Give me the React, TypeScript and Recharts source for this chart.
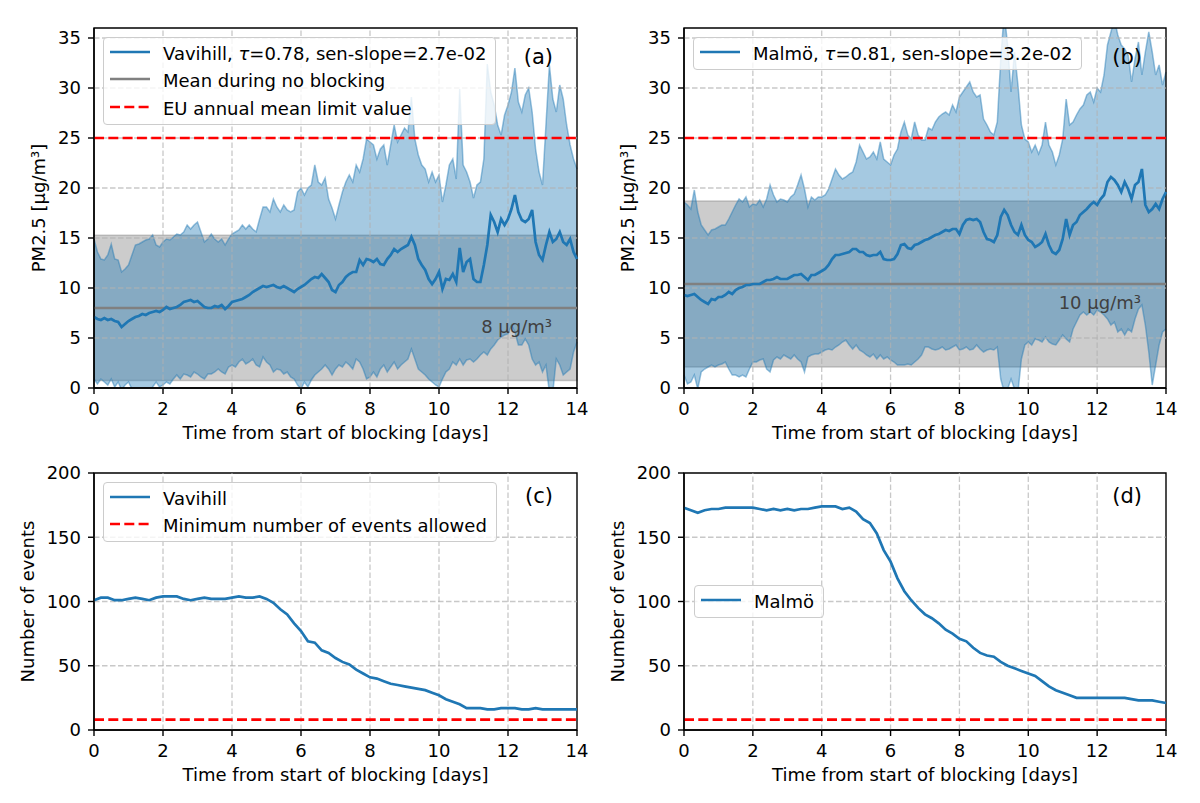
import React from 'react'
import {
  Area,
  ComposedChart,
  Legend,
  Line,
  ReferenceArea,
  ReferenceLine,
  XAxis,
  YAxis,
} from 'recharts'

const FONT = '"DejaVu Sans", sans-serif'
const FS = 18
const BLUE = '#1f77b4'
const GRAY = '#808080'
const RED = '#ff0000'
const DASH = '10 4.3'
const LW = 2.7

const DAY_TICKS = [0, 2, 4, 6, 8, 10, 12, 14]
const PM_TICKS = [0, 5, 10, 15, 20, 25, 30, 35]
const COUNT_TICKS = [0, 50, 100, 150, 200]

const PM_STEP = 0.1
const COUNT_STEP = 0.2
const EU_LIMIT = 25
const MIN_EVENTS = 8

// no-blocking reference band: [low, mean, high]
const VAV_NO_BLOCK = [0.74, 8.0, 15.27]
const MAL_NO_BLOCK = [2.1, 10.4, 18.7]

// Vavihill PM2.5 composite, every 0.1 day
const VAV_MEAN = [
  7.1, 6.9, 6.8, 7.0, 6.8, 6.9, 6.7, 6.6, 6.1, 6.4,
  6.7, 6.9, 7.1, 7.2, 7.4, 7.3, 7.5, 7.6, 7.7, 7.6,
  7.8, 8.1, 7.9, 8.0, 8.1, 8.3, 8.6, 8.7, 8.8, 8.6,
  8.7, 8.4, 8.1, 8.0, 8.0, 8.2, 8.1, 8.3, 7.9, 8.2,
  8.6, 8.7, 8.8, 8.9, 9.1, 9.3, 9.6, 9.8, 10.0, 10.2,
  10.1, 10.2, 10.3, 10.1, 10.0, 10.2, 10.0, 9.8, 9.6, 9.9,
  10.1, 10.3, 10.6, 10.9, 11.1, 11.0, 11.4, 11.0, 10.6, 9.8,
  9.6, 10.3, 10.6, 11.1, 11.4, 11.6, 11.6, 12.8, 12.3, 12.9,
  12.8, 12.6, 12.9, 12.4, 12.3, 12.9, 13.3, 13.9, 13.6, 13.9,
  14.1, 14.3, 15.1, 14.3, 12.9, 12.3, 11.8, 10.9, 10.4, 10.9,
  11.6, 9.9, 10.9, 10.8, 11.4, 10.6, 14.0, 11.6, 12.6, 12.9,
  10.9, 10.6, 10.6, 12.3, 14.3, 17.3, 16.6, 15.6, 16.9, 16.3,
  16.9, 17.9, 19.3, 17.6, 16.8, 16.6, 16.9, 17.8, 14.6, 13.3,
  12.8, 14.3, 15.6, 14.6, 14.9, 15.6, 14.6, 14.3, 14.9, 13.6,
  12.9,
]
const VAV_HIGH = [
  14.9, 13.6, 12.9, 12.8, 13.3, 14.4, 12.9, 12.8, 11.6, 11.9,
  12.3, 13.3, 14.3, 14.4, 14.6, 14.8, 14.9, 15.3, 14.3, 14.1,
  14.6, 14.9, 14.8, 15.1, 15.4, 15.3, 15.6, 16.3, 15.9, 16.3,
  16.6, 15.6, 14.6, 14.9, 15.4, 14.9, 14.6, 14.9, 14.3, 14.9,
  15.4, 15.6, 15.8, 16.3, 15.9, 16.3, 15.9, 15.6, 16.9, 18.1,
  18.1, 17.6, 18.9, 18.1, 17.6, 18.3, 17.8, 17.6, 17.8, 19.6,
  20.0, 19.3, 20.0, 20.3, 22.3, 20.6, 20.3, 21.0, 18.9, 18.0,
  16.9, 18.3, 19.6, 20.6, 21.3, 20.6, 22.3, 21.6, 22.9, 24.9,
  24.6, 24.3, 22.9, 23.9, 24.3, 22.3, 24.3, 26.3, 24.6, 25.3,
  26.0, 25.6, 29.1, 24.9, 23.3, 22.3, 21.9, 20.6, 21.6, 20.6,
  21.3, 18.6, 20.3, 22.3, 22.9, 20.9, 29.9, 22.3, 21.6, 20.6,
  19.0, 20.3, 20.6, 22.9, 32.4, 29.6, 28.3, 26.3, 25.3, 27.3,
  28.3, 29.6, 32.0, 28.6, 27.6, 29.3, 30.0, 27.6, 23.9, 21.6,
  20.3, 26.3, 32.3, 28.9, 27.6, 30.3, 28.9, 26.3, 24.3, 22.9,
  21.9,
]
const VAV_LOW = [
  0.9, 0.4, 0.9, 0.6, 0.3, 0.9, 0.1, 0.6, -0.2, 0.3,
  0.6, -0.1, -0.4, -0.8, -0.9, -0.6, -0.3, 0.1, 0.6, 0.1,
  0.3, 0.6, 0.4, 0.9, 1.3, 0.9, 1.4, 1.3, 1.1, 1.6,
  1.4, 1.1, 0.9, 1.4, 1.4, 1.6, 1.9, 1.6, 1.4, 2.1,
  2.3, 2.1, 2.6, 2.9, 2.4, 2.6, 2.9, 2.3, 2.1, 3.1,
  2.6, 2.3, 1.6, 1.9, 1.8, 1.4, 1.6, 1.1, 0.9, 0.3,
  -0.1, 0.6, 0.1, 0.8, 1.3, 1.6, 1.9, 2.3, 1.9, 1.3,
  1.9, 2.3, 2.1, 2.6, 2.3, 1.9, 2.9, 2.6, 1.9, 0.9,
  1.1, 1.6, 1.1, 1.9, 2.3, 1.6, 2.1, 2.6, 1.9, 2.3,
  2.6, 2.9, 3.9, 2.9, 1.9, 1.6, 1.3, 0.9, 0.6, 0.3,
  0.1, 0.9, 1.6, 1.9, 2.6, 2.3, 2.9, 2.3, 2.8, 2.9,
  2.6, 2.9, 3.3, 3.6, 3.3, 3.9, 4.3, 4.8, 5.1, 5.3,
  5.4, 6.3, 5.6, 4.3, 4.3, 4.9, 4.3, 2.9, 2.3, 2.6,
  1.6, 2.3, -0.4, -0.4, 2.9, 2.3, 1.3, 1.6, 1.9, 3.6,
  4.6,
]

// Malmö PM2.5 composite, every 0.1 day
const MAL_MEAN = [
  9.3, 9.2, 9.3, 9.4, 9.1, 8.8, 8.6, 8.4, 8.9, 8.8,
  9.1, 9.1, 9.3, 9.6, 9.4, 9.8, 10.0, 10.1, 10.3, 10.3,
  10.4, 10.4, 10.4, 10.6, 10.8, 10.8, 10.9, 11.1, 10.9, 10.9,
  10.9, 11.1, 11.3, 11.3, 11.4, 11.1, 10.8, 11.3, 11.3, 11.5,
  11.7, 11.9, 12.3, 12.9, 13.3, 13.3, 13.4, 13.5, 13.6, 13.9,
  13.9, 13.6, 13.6, 13.3, 13.2, 13.3, 13.3, 13.6, 12.9, 12.8,
  12.8, 12.9, 13.4, 14.3, 14.4, 14.0, 13.9, 14.3, 14.4, 14.6,
  14.8, 14.9, 15.1, 15.3, 15.4, 15.6, 15.8, 15.7, 15.9, 15.9,
  15.4, 16.3, 16.8, 16.9, 16.8, 16.9, 16.6, 15.6, 14.9, 14.8,
  14.6, 15.3, 17.1, 17.8, 17.3, 16.3, 15.6, 15.3, 16.3, 15.3,
  14.8, 14.6, 14.1, 14.3, 14.6, 15.4, 14.3, 13.6, 13.4, 13.8,
  14.9, 16.9, 15.3, 16.3, 16.6, 17.3, 17.6, 17.9, 18.3, 18.6,
  18.3, 18.9, 19.3, 20.6, 21.1, 20.8, 20.3, 19.6, 20.6, 19.9,
  18.9, 20.3, 20.6, 21.9, 18.3, 17.6, 17.9, 18.4, 17.9, 18.9,
  19.6,
]
const MAL_HIGH = [
  18.6, 18.3, 17.9, 19.8, 17.6, 16.3, 15.8, 15.3, 15.8, 15.9,
  16.1, 16.3, 16.3, 16.9, 17.6, 18.3, 18.9, 18.6, 19.1, 18.1,
  18.4, 18.3, 18.8, 18.1, 18.9, 20.3, 19.3, 18.6, 18.9, 18.8,
  18.6, 19.1, 19.4, 20.3, 21.3, 19.9, 18.1, 19.1, 18.8, 19.1,
  19.1, 19.3, 19.9, 20.9, 21.9, 21.3, 20.9, 21.1, 21.4, 21.6,
  22.6, 24.3, 23.6, 22.9, 23.1, 23.6, 22.9, 24.6, 22.9, 22.6,
  22.3, 23.3, 23.9, 25.6, 26.6, 25.3, 24.9, 26.6, 25.3, 24.8,
  24.8, 26.0, 25.8, 26.6, 27.1, 27.4, 27.6, 27.3, 28.3, 27.6,
  29.1, 29.6, 30.1, 30.6, 29.6, 29.1, 29.3, 26.9, 26.3, 25.6,
  25.3, 26.6, 32.9, 37.5, 34.3, 29.6, 33.6, 30.3, 26.3, 24.9,
  24.6, 23.6, 24.3, 23.4, 24.3, 26.6, 24.3, 23.6, 22.3, 23.3,
  24.9, 28.9, 26.3, 26.6, 27.3, 27.9, 28.3, 29.3, 29.6, 28.6,
  30.0, 29.6, 31.3, 34.3, 35.6, 36.9, 35.3, 34.3, 33.9, 33.3,
  30.6, 32.9, 34.6, 31.3, 33.6, 35.6, 33.6, 31.3, 32.3, 30.3,
  31.6,
]
const MAL_LOW = [
  1.3, 0.4, 0.6, 1.3, -0.1, 1.6, 1.9, 2.1, 2.3, 2.1,
  2.3, 2.4, 2.6, 1.9, 1.3, 1.3, 1.1, 1.3, 1.1, 1.9,
  2.6, 2.6, 2.8, 2.9, 1.9, 1.6, 2.8, 3.1, 2.9, 3.3,
  3.1, 2.9, 3.3, 2.9, 2.6, 1.6, 3.1, 3.3, 3.4, 3.4,
  3.6, 3.8, 3.9, 3.8, 4.1, 4.3, 4.6, 4.8, 4.3, 3.9,
  4.3, 3.8, 3.6, 3.3, 3.1, 3.4, 2.9, 3.3, 2.9, 3.1,
  2.8, 2.6, 2.3, 2.3, 2.3, 2.4, 2.3, 2.6, 2.9, 3.3,
  4.1, 4.1, 3.9, 3.8, 3.9, 4.1, 3.8, 3.9, 4.1, 4.3,
  3.8, 3.9, 4.1, 3.8, 3.9, 4.3, 3.9, 3.6, 3.8, 3.9,
  3.8, 4.1, 0.9, -0.4, -0.1, 0.9, -0.1, -0.4, 2.9, 4.3,
  4.6, 4.3, 4.9, 4.8, 4.6, 5.1, 4.6, 4.4, 4.3, 4.8,
  5.3, 4.9, 4.6, 5.9, 6.6, 7.3, 7.6, 7.3, 7.6, 7.3,
  7.8, 7.6, 7.3, 6.9, 6.3, 6.6, 5.6, 5.9, 5.3, 5.9,
  5.6, 6.9, 7.9, 8.3, 6.3, 3.6, 0.3, 2.3, 4.3, 5.6,
  5.9,
]

// number of events, every 0.2 day
const VAV_COUNT = [
  101, 103, 103, 101, 101, 102, 103, 102, 101, 103,
  104, 104, 104, 102, 101, 102, 103, 102, 102, 102,
  103, 104, 103, 103, 104, 102, 99, 94, 90, 83,
  77, 69, 68, 62, 60, 56, 53, 51, 47, 44,
  41, 40, 38, 36, 35, 34, 33, 32, 31, 29,
  27, 24, 22, 20, 17, 17, 17, 16, 16, 17,
  17, 17, 16, 16, 17, 16, 16, 16, 16, 16,
  16,
]
const MAL_COUNT = [
  173, 171, 169, 171, 172, 172, 173, 173, 173, 173,
  173, 172, 171, 172, 171, 172, 171, 172, 172, 173,
  174, 174, 174, 172, 173, 170, 164, 161, 153, 140,
  131, 118, 108, 101, 95, 90, 87, 83, 78, 75,
  71, 69, 64, 60, 58, 57, 53, 50, 48, 46,
  44, 42, 38, 34, 31, 29, 27, 25, 25, 25,
  25, 25, 25, 25, 25, 24, 23, 23, 23, 22,
  21,
]

const dayOf = (i: number, step: number) => Math.round(i * step * 10) / 10

const pmRows = (mean: number[], low: number[], high: number[]) =>
  mean.map((m, i) => ({ day: dayOf(i, PM_STEP), mean: m, band: [low[i], high[i]] }))

const countRows = (counts: number[]) =>
  counts.map((c, i) => ({ day: dayOf(i, COUNT_STEP), count: c }))

// grid sits above the fills but below the lines, as in matplotlib
const GRID = { stroke: '#b0b0b0', strokeOpacity: 0.7, strokeWidth: 1.3, strokeDasharray: '5.5 2.5' }
const innerX = DAY_TICKS.slice(1, -1)

type LegendItem = { color: string; dashed?: boolean; label: React.ReactNode }

function LegendBox({ items }: { items: LegendItem[] }) {
  return (
    <div
      style={{
        background: 'rgba(255,255,255,0.8)',
        border: '1px solid #cccccc',
        borderRadius: 4,
        padding: '5.5px 9px 5.5px 6px',
        fontFamily: FONT,
        fontSize: FS,
        color: '#000',
        display: 'flex',
        flexDirection: 'column',
        gap: 7.4,
      }}
    >
      {items.map((it, i) => (
        <div key={i} style={{ display: 'flex', alignItems: 'center', height: 20, whiteSpace: 'nowrap' }}>
          <svg width={40} height={8} style={{ marginRight: 13, marginTop: -3 }}>
            <line
              x1={0}
              x2={40}
              y1={4}
              y2={4}
              stroke={it.color}
              strokeWidth={LW}
              strokeDasharray={it.dashed ? DASH : undefined}
            />
          </svg>
          <span>{it.label}</span>
        </div>
      ))}
    </div>
  )
}

function XTitle({ viewBox }: any) {
  return (
    <text
      x={viewBox.x + viewBox.width / 2}
      y={viewBox.y + 51}
      textAnchor="middle"
      fontFamily={FONT}
      fontSize={FS}
      fill="#000"
    >
      Time from start of blocking [days]
    </text>
  )
}

function YTitle({ viewBox, text, gap }: any) {
  const cx = viewBox.x + viewBox.width - gap
  const cy = viewBox.y + viewBox.height / 2
  return (
    <text
      x={cx}
      y={cy}
      dy="0.36em"
      transform={`rotate(-90 ${cx} ${cy})`}
      textAnchor="middle"
      fontFamily={FONT}
      fontSize={FS}
      fill="#000"
    >
      {text}
    </text>
  )
}

function PanelTag({ viewBox, text, drop }: any) {
  return (
    <text
      x={viewBox.x + viewBox.width - 24}
      y={viewBox.y + drop}
      textAnchor="end"
      fontFamily={FONT}
      fontSize={21}
      fill="#000"
    >
      {text}
    </text>
  )
}

function MeanTag({ viewBox, text }: any) {
  return (
    <text
      x={viewBox.x + viewBox.width - 25}
      y={viewBox.y + 25}
      textAnchor="end"
      fontFamily={FONT}
      fontSize={FS}
      fill="#404040"
    >
      {text}
    </text>
  )
}

const tickStyle = { fill: '#000', fontSize: FS, fontFamily: FONT }
const axisStroke = { stroke: '#000', strokeWidth: 1.4 }

function PmPanel({
  left,
  mean,
  low,
  high,
  noBlock,
  tag,
  meanText,
  legend,
  titleGap,
}: {
  left: number
  mean: number[]
  low: number[]
  high: number[]
  noBlock: number[]
  tag: string
  meanText: string
  legend: LegendItem[]
  titleGap: number
}) {
  const rows = pmRows(mean, low, high)
  const marginLeft = left === 0 ? 34 : 24
  const marginRight = left === 0 ? 23 : 34
  return (
    <div style={{ position: 'absolute', left, top: 0 }}>
      <ComposedChart
        width={600}
        height={450}
        data={rows}
        margin={{ top: 28, right: marginRight, bottom: 11, left: marginLeft }}
      >
        <ReferenceArea
          y1={noBlock[0]}
          y2={noBlock[2]}
          fill={GRAY}
          fillOpacity={0.4}
          stroke={GRAY}
          strokeOpacity={0.4}
          strokeWidth={1.5}
        />
        <Area
          dataKey="band"
          type="linear"
          fill={BLUE}
          fillOpacity={0.4}
          stroke={BLUE}
          strokeOpacity={0.45}
          strokeWidth={1.5}
          isAnimationActive={false}
        />
        {innerX.map((d) => (
          <ReferenceLine key={`gx${d}`} x={d} {...GRID} />
        ))}
        {PM_TICKS.slice(1).map((v) => (
          <ReferenceLine key={`gy${v}`} y={v} {...GRID} />
        ))}
        <ReferenceLine
          y={noBlock[1]}
          stroke={GRAY}
          strokeWidth={LW}
          label={<MeanTag text={meanText} />}
        />
        <ReferenceLine y={EU_LIMIT} stroke={RED} strokeWidth={LW} strokeDasharray={DASH} />
        <Line
          dataKey="mean"
          type="linear"
          stroke={BLUE}
          strokeWidth={LW}
          dot={false}
          isAnimationActive={false}
        />
        <XAxis
          dataKey="day"
          type="number"
          domain={[0, 14]}
          ticks={DAY_TICKS}
          interval={0}
          height={51}
          tick={tickStyle}
          tickSize={6}
          tickMargin={8}
          axisLine={axisStroke}
          tickLine={axisStroke}
          label={<XTitle />}
        />
        <YAxis
          type="number"
          domain={[0, 36]}
          ticks={PM_TICKS}
          interval={0}
          allowDataOverflow
          width={60}
          tick={tickStyle}
          tickSize={6}
          tickMargin={7}
          axisLine={axisStroke}
          tickLine={axisStroke}
          label={<YTitle text="PM2.5 [µg/m³]" gap={titleGap} />}
        />
        <ReferenceArea
          x1={0}
          x2={14}
          y1={0}
          y2={36}
          fill="none"
          stroke="#000"
          strokeWidth={1.4}
          label={<PanelTag text={tag} drop={36} />}
        />
        <Legend
          layout="vertical"
          align="center"
          verticalAlign="middle"
          wrapperStyle={{ left: left === 0 ? 103 : 93, top: 37, width: 'auto', height: 'auto' }}
          content={() => <LegendBox items={legend} />}
        />
      </ComposedChart>
    </div>
  )
}

function CountPanel({
  left,
  counts,
  tag,
  legend,
  legendPos,
  titleGap,
}: {
  left: number
  counts: number[]
  tag: string
  legend: LegendItem[]
  legendPos: { left: number; top: number }
  titleGap: number
}) {
  const rows = countRows(counts)
  const marginLeft = left === 0 ? 34 : 24
  const marginRight = left === 0 ? 23 : 34
  return (
    <div style={{ position: 'absolute', left, top: 450 }}>
      <ComposedChart
        width={600}
        height={353}
        data={rows}
        margin={{ top: 23, right: marginRight, bottom: 22, left: marginLeft }}
      >
        {innerX.map((d) => (
          <ReferenceLine key={`gx${d}`} x={d} {...GRID} />
        ))}
        {COUNT_TICKS.slice(1, -1).map((v) => (
          <ReferenceLine key={`gy${v}`} y={v} {...GRID} />
        ))}
        <ReferenceLine y={MIN_EVENTS} stroke={RED} strokeWidth={LW} strokeDasharray={DASH} />
        <Line
          dataKey="count"
          type="linear"
          stroke={BLUE}
          strokeWidth={LW}
          dot={false}
          isAnimationActive={false}
        />
        <XAxis
          dataKey="day"
          type="number"
          domain={[0, 14]}
          ticks={DAY_TICKS}
          interval={0}
          height={51}
          tick={tickStyle}
          tickSize={6}
          tickMargin={8}
          axisLine={axisStroke}
          tickLine={axisStroke}
          label={<XTitle />}
        />
        <YAxis
          type="number"
          domain={[0, 200]}
          ticks={COUNT_TICKS}
          interval={0}
          width={60}
          tick={tickStyle}
          tickSize={6}
          tickMargin={7}
          axisLine={axisStroke}
          tickLine={axisStroke}
          label={<YTitle text="Number of events" gap={titleGap} />}
        />
        <ReferenceArea
          x1={0}
          x2={14}
          y1={0}
          y2={200}
          fill="none"
          stroke="#000"
          strokeWidth={1.4}
          label={<PanelTag text={tag} drop={29.5} />}
        />
        <Legend
          layout="vertical"
          align="center"
          verticalAlign="middle"
          wrapperStyle={{ left: legendPos.left, top: legendPos.top, width: 'auto', height: 'auto' }}
          content={() => <LegendBox items={legend} />}
        />
      </ComposedChart>
    </div>
  )
}

const tau = <span style={{ fontStyle: 'italic' }}>τ</span>

export default function App() {
  return (
    <div style={{ position: 'relative', width: 1200, height: 803, background: '#fff', fontFamily: FONT }}>
      <style>{'body{margin:0}'}</style>
      <PmPanel
        left={0}
        mean={VAV_MEAN}
        low={VAV_LOW}
        high={VAV_HIGH}
        noBlock={VAV_NO_BLOCK}
        tag="(a)"
        meanText="8 µg/m³"
        titleGap={55}
        legend={[
          { color: BLUE, label: <>Vavihill, {tau}=0.78, sen-slope=2.7e-02</> },
          { color: GRAY, label: 'Mean during no blocking' },
          { color: RED, dashed: true, label: 'EU annual mean limit value' },
        ]}
      />
      <PmPanel
        left={600}
        mean={MAL_MEAN}
        low={MAL_LOW}
        high={MAL_HIGH}
        noBlock={MAL_NO_BLOCK}
        tag="(b)"
        meanText="10 µg/m³"
        titleGap={56}
        legend={[{ color: BLUE, label: <>Malmö, {tau}=0.81, sen-slope=3.2e-02</> }]}
      />
      <CountPanel
        left={0}
        counts={VAV_COUNT}
        tag="(c)"
        titleGap={66}
        legendPos={{ left: 103, top: 32 }}
        legend={[
          { color: BLUE, label: 'Vavihill' },
          { color: RED, dashed: true, label: 'Minimum number of events allowed' },
        ]}
      />
      <CountPanel
        left={600}
        counts={MAL_COUNT}
        tag="(d)"
        titleGap={66}
        legendPos={{ left: 94, top: 135 }}
        legend={[{ color: BLUE, label: 'Malmö' }]}
      />
    </div>
  )
}
